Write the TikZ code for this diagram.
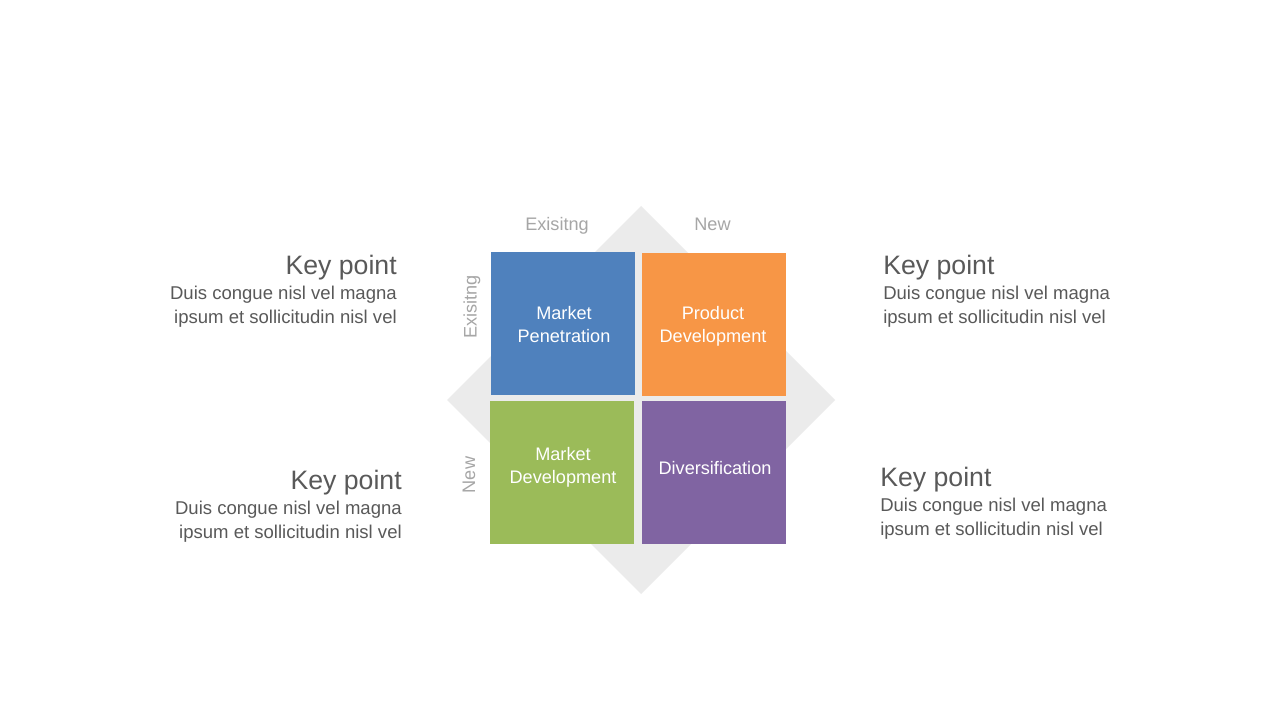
\documentclass[tikz,border=0pt]{standalone}
\usepackage{fontspec}
\setmainfont{Liberation Sans}
\definecolor{cblue}{HTML}{4F81BD}
\definecolor{corange}{HTML}{F79646}
\definecolor{cgreen}{HTML}{9BBB59}
\definecolor{cpurple}{HTML}{8064A2}
\definecolor{cdiam}{HTML}{EBEBEB}
\definecolor{ctext}{HTML}{595959}
\definecolor{caxis}{HTML}{A6A6A6}
\tikzset{
  quad/.style={minimum width=108pt, minimum height=107.25pt, inner sep=0pt, draw=none},
  quadtext/.style={text=white, align=center, font=\fontsize{13.6pt}{17.25pt}\selectfont, inner sep=0pt},
  axislbl/.style={text=caxis, font=\fontsize{13.6pt}{16pt}\selectfont, inner sep=0pt},
  kptitle/.style={text=ctext, font=\fontsize{20pt}{24pt}\selectfont, inner sep=0pt},
  kpbody/.style={text=ctext, font=\fontsize{13.9pt}{18pt}\selectfont, inner sep=0pt},
}
\begin{document}
\begin{tikzpicture}[x=0.75pt, y=-0.75pt]
\useasboundingbox (0,0) rectangle (1280,720);
\fill[white] (0,0) rectangle (1280,720);
% background diamond
\fill[cdiam] (641,206) -- (835,400) -- (641,594) -- (447,400) -- cycle;
% quadrants
\node[quad, fill=cblue]   (q1) at (563,323.5) {};
\node[quad, fill=corange] (q2) at (714,324) {};
\node[quad, fill=cgreen]  (q3) at (562,472) {};
\node[quad, fill=cpurple] (q4) at (713.5,472) {};
\node[quadtext] (t1) at (564,324.5) {Market\\Penetration};
\node[quadtext] (t2) at (713,326.5) {Product\\Development};
\node[quadtext] (t3) at (563,467.5) {Market\\Development};
\node[quadtext] (t4) at (715,468) {Diversification};
% axis labels
\node[axislbl, anchor=base] (ax1) at (557,231) {Exisitng};
\node[axislbl, anchor=base] (ax2) at (712.5,231) {New};
\node[axislbl, anchor=base, rotate=90] (ay1) at (476.5,307) {Exisitng};
\node[axislbl, anchor=base, rotate=90] (ay2) at (475,475) {New};
% key points left top
\node[kptitle, anchor=base east] (k1t) at (397,274) {Key point};
\node[kpbody, anchor=base east, align=right] (k1b) at (397,323.5) {Duis congue nisl vel magna\\ipsum et sollicitudin nisl vel};
% key points right top
\node[kptitle, anchor=base west] (k2t) at (883,274) {Key point};
\node[kpbody, anchor=base west, align=left] (k2b) at (883,323.5) {Duis congue nisl vel magna\\ipsum et sollicitudin nisl vel};
% key points left bottom
\node[kptitle, anchor=base east] (k3t) at (402,489) {Key point};
\node[kpbody, anchor=base east, align=right] (k3b) at (402,538.5) {Duis congue nisl vel magna\\ipsum et sollicitudin nisl vel};
% key points right bottom
\node[kptitle, anchor=base west] (k4t) at (880,486) {Key point};
\node[kpbody, anchor=base west, align=left] (k4b) at (880,535.5) {Duis congue nisl vel magna\\ipsum et sollicitudin nisl vel};
\end{tikzpicture}
\end{document}
